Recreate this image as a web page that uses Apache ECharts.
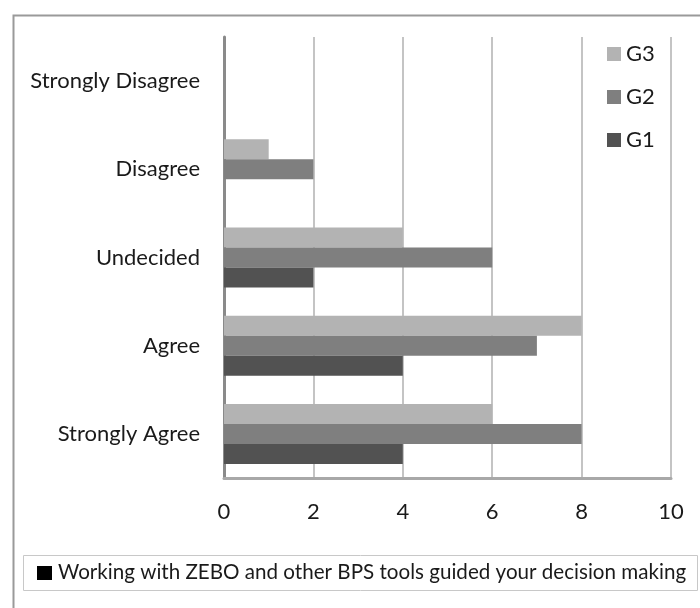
<!DOCTYPE html>
<html>
<head>
<meta charset="utf-8">
<script src="https://cdn.jsdelivr.net/npm/echarts@6/dist/echarts.min.js"></script>
<style>html,body{margin:0;padding:0;background:#fff}#c{width:700px;height:608px}</style>
</head>
<body>
<div id="c"></div>
<script>
const categories = ['Strongly Agree', 'Agree', 'Undecided', 'Disagree', 'Strongly Disagree'];
const seriesNames = ['G3', 'G2', 'G1'];
const g1 = [4, 4, 2, 0, 0];
const g2 = [8, 7, 6, 2, 0];
const g3 = [6, 8, 4, 1, 0];
const xTicks = [0, 2, 4, 6, 8, 10];
const caption = 'Working with ZEBO and other BPS tools guided your decision making';

const FONT = 'Lato';
const colors = { G1: '#525252', G2: '#7f7f7f', G3: '#b3b3b3' };
const values = { G1: g1, G2: g2, G3: g3 };

const chart = echarts.init(document.getElementById('c'), null, { renderer: 'canvas' });
chart.setOption({
  backgroundColor: '#fff',
  animation: false,
  textStyle: { fontFamily: FONT },
  grid: { left: 224, right: 29, top: 37, bottom: 130, containLabel: false },
  xAxis: {
    type: 'value', min: xTicks[0], max: xTicks[xTicks.length - 1], interval: 2,
    axisLine: { show: true, lineStyle: { color: '#a8a8a8', width: 3 } },
    axisTick: { show: false },
    axisLabel: { fontSize: 22, color: '#1a1a1a', margin: 23, fontFamily: FONT },
    splitLine: { show: true, lineStyle: { color: '#c4c4c4', width: 2 } }
  },
  yAxis: {
    type: 'category', data: categories,
    axisLine: { show: true, lineStyle: { color: '#8a8a8a', width: 3 } },
    axisTick: { show: false },
    axisLabel: { fontSize: 22, color: '#1a1a1a', margin: 24, fontFamily: FONT, padding: [7, 0, 0, 0] }
  },
  legend: {
    orient: 'vertical', left: 602, top: 38,
    data: ['G3', 'G2', 'G1'],
    itemWidth: 14, itemHeight: 14, itemGap: 21,
    icon: 'rect',
    textStyle: { fontSize: 22, color: '#1a1a1a', fontFamily: FONT }
  },
  series: seriesNames.map(n => ({
    name: n, type: 'bar', data: values[n], barWidth: 20, barGap: '0%',
    itemStyle: { color: colors[n] }
  })),
  graphic: [
    { type: 'rect', left: 11, top: 13, shape: { width: 720, height: 620 }, style: { fill: 'none', stroke: '#9a9a9a', lineWidth: 2 }, silent: true },
    { type: 'rect', left: 23, top: 555, shape: { width: 674, height: 35 }, style: { fill: '#fff', stroke: '#c8c8c8', lineWidth: 1 }, silent: true },
    { type: 'rect', left: 37, top: 566, shape: { width: 15, height: 14 }, style: { fill: '#000' }, silent: true },
    { type: 'text', left: 58, top: 562, style: { text: caption, fontSize: 20.6, fill: '#1a1a1a', fontFamily: FONT } }
  ]
});
</script>
</body>
</html>
